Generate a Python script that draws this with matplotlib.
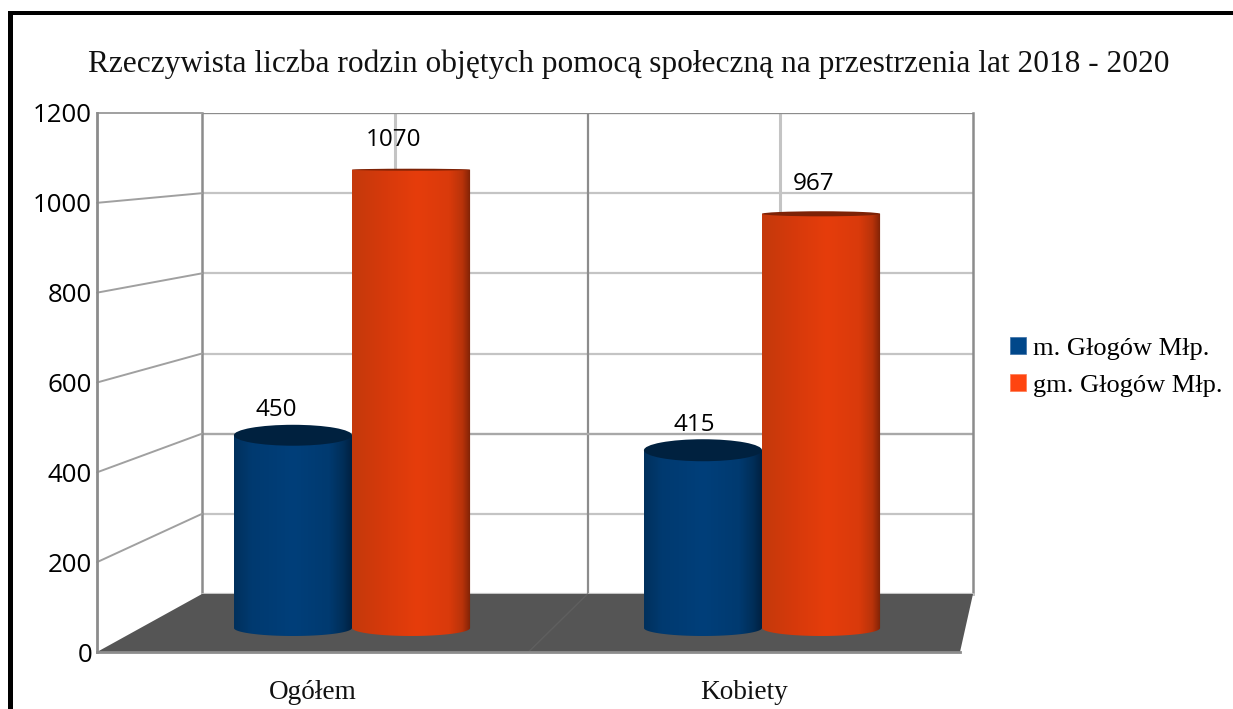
import numpy as np
import matplotlib
matplotlib.use("Agg")
import matplotlib.pyplot as plt
from matplotlib.colors import LinearSegmentedColormap
from matplotlib.patches import ConnectionPatch, Ellipse, Patch, PathPatch, Polygon, Rectangle
from matplotlib.path import Path

# Data
title = "Rzeczywista liczba rodzin objętych pomocą społeczną na przestrzenia lat 2018 - 2020"
categories = ["Ogółem", "Kobiety"]
series_names = ["m. Głogów Młp.", "gm. Głogów Młp."]
town_values = [450, 415]
commune_values = [1070, 967]
y_ticks = [0, 200, 400, 600, 800, 1000, 1200]

W, H = 1233, 709
SERIF = "Liberation Serif"
SANS = "Open Sans"
GREY = "#8c8c8c"
LIGHT = "#c4c4c4"


def axes_box(left, top, right, bottom):
    """Axes rectangle from pixel edges (y counted from the top)"""
    return [left / W, 1 - bottom / H, (right - left) / W, (bottom - top) / H]


def draw_cylinder(ax, x0, x1, value, stops, top_color):
    px_y = ax.get_position().height * H / 1200
    rx = (x1 - x0) / 2
    cx = (x0 + x1) / 2
    base_h = 8 / px_y
    # the top looks flatter the closer it gets to eye level
    top_h = (11 - (value - 415) * 8.5 / 555) / px_y

    t = np.linspace(0, np.pi, 40)
    bottom = np.column_stack([cx - rx * np.cos(t), -base_h * np.sin(t)])
    top = np.column_stack([cx + rx * np.cos(t), np.full_like(t, value)])
    verts = np.vstack([bottom, top, bottom[:1]])
    clip = PathPatch(Path(verts), transform=ax.transData, fc="none", ec="none")
    clip.set_clip_on(False)
    ax.add_patch(clip)

    cmap = LinearSegmentedColormap.from_list("cyl", stops)
    grad = np.linspace(0, 1, 256).reshape(1, -1)
    im = ax.imshow(grad, cmap=cmap, extent=(x0, x1, -base_h, value), aspect="auto",
                   zorder=2, interpolation="bilinear")
    im.set_clip_box(ax.figure.bbox)
    im.set_clip_path(clip)
    ax.add_patch(Ellipse((cx, value), 2 * rx, 2 * top_h, fc=top_color, ec="none", zorder=3))


fig = plt.figure(figsize=(W / 100, H / 100), dpi=100, facecolor="white")

# Outer black frame, only top and left are in the picture
fig.add_artist(Rectangle((8 / W, 0), 5 / W, 1 - 11 / H, transform=fig.transFigure, fc="black", ec="none"))
fig.add_artist(Rectangle((8 / W, 1 - 15 / H), 1 - 8 / W, 4 / H, transform=fig.transFigure, fc="black", ec="none"))

fig.text(629 / W, 1 - 64 / H, title, family=SERIF, fontsize=22.6, ha="center", va="center", color="#111111")

# Back wall
back = fig.add_axes(axes_box(202, 113, 973, 594), zorder=1)
back.set_xlim(0, 2)
back.set_ylim(0, 1200)
back.set_yticks(y_ticks)
back.set_xticks([0.5, 1.5])
back.tick_params(length=0, labelleft=False, labelbottom=False)
back.grid(True, axis="y", color=LIGHT, lw=1.6)
back.grid(True, axis="x", color=LIGHT, lw=2.2)
back.axvline(1, color=GREY, lw=1.6)
back.axhline(1200, color=GREY, lw=1.6)
back.axhline(400, color="#a8a8a8", lw=1.6)
for name, spine in back.spines.items():
    spine.set_color(GREY)
    spine.set_linewidth(1.8)
back.spines["top"].set_visible(False)
back.spines["bottom"].set_color(LIGHT)
back.set_axisbelow(True)

# Front plane carries the real axis ticks
front = fig.add_axes(axes_box(97, 113, 960, 652), zorder=4)
front.patch.set_alpha(0)
front.set_xlim(0, 2)
front.set_ylim(0, 1200)
front.set_yticks(y_ticks)
front.set_xticks([0.5, 1.5])
front.set_xticklabels(categories, family=SERIF, fontsize=19.6, color="#111111")
front.set_yticklabels([str(v) for v in y_ticks], family=SANS, fontsize=18.6, color="black")
front.tick_params(axis="y", length=0, pad=3.5)
front.tick_params(axis="x", length=0, pad=20)
for name in ["top", "right"]:
    front.spines[name].set_visible(False)
for name in ["left", "bottom"]:
    front.spines[name].set_color(GREY)
    front.spines[name].set_linewidth(2)

# Floor between the two planes
to_fig = fig.transFigure.inverted()
corners = np.vstack([
    front.transData.transform([(0, 0), (2, 0)]),
    back.transData.transform([(2, 0), (0, 0)]),
])
fig.add_artist(Polygon(to_fig.transform(corners), closed=True, transform=fig.transFigure,
                       fc="#555555", ec="none", zorder=2))
fig.add_artist(ConnectionPatch((1, 0), (1, 0), coordsA=front.transData, coordsB=back.transData,
                               color="#5f5f5f", lw=1, zorder=2.1))

# Left wall lines
for v in y_ticks[1:]:
    fig.add_artist(ConnectionPatch((0, v), (0, v), coordsA=front.transData, coordsB=back.transData,
                                   color="#a0a0a0", lw=1.4, zorder=1.5))

# Cylinders stand on their own plane between back wall and front
bars = fig.add_axes(axes_box(147, 114, 967, 628), zorder=3)
bars.patch.set_alpha(0)
bars.axis("off")
blue_stops = [(0, "#00305c"), (0.15, "#003a70"), (0.5, "#003f7a"), (0.8, "#003a70"), (0.92, "#002e58"), (1, "#001f3f")]
orange_stops = [(0, "#c4390c"), (0.3, "#d83a0b"), (0.55, "#e63d0c"), (0.82, "#d93a0b"), (0.93, "#b8330a"), (1, "#7d2206")]
bar_w = 0.288
label_dx = [-17, -9]
label_dy = [25, 30]
orange_dx = [-17, -7]
for i, (a, b) in enumerate(zip(town_values, commune_values)):
    c = i + 0.5
    draw_cylinder(bars, c - bar_w, c, a, blue_stops, "#00213f")
    draw_cylinder(bars, c, c + bar_w, b, orange_stops, "#7d2206")
    points = [(c - bar_w / 2, a, label_dy[0], label_dx[i]),
              (c + bar_w / 2, b, label_dy[1], orange_dx[i])]
    for x, v, dy, off in points:
        bars.annotate(str(v), (x, v), xytext=(off * 0.72, dy * 0.72), textcoords="offset points",
                      ha="center", va="center", family=SANS, fontsize=17.5, color="black", zorder=6)
bars.set_xlim(0, 2)
bars.set_ylim(0, 1200)

handles = [Patch(fc="#00478a", ec="#3a6ea5", lw=0.5), Patch(fc="#ff4510", ec="#ff7a50", lw=0.5)]
fig.legend(handles, series_names, loc="upper left", bbox_to_anchor=(1002 / W, 1 - 329 / H), frameon=False,
           prop={"family": SERIF, "size": 19}, handlelength=0.6, handleheight=0.6,
           handletextpad=0.28, labelspacing=0.55, borderpad=0.3, borderaxespad=0)

plt.savefig("out.png", dpi=100)
